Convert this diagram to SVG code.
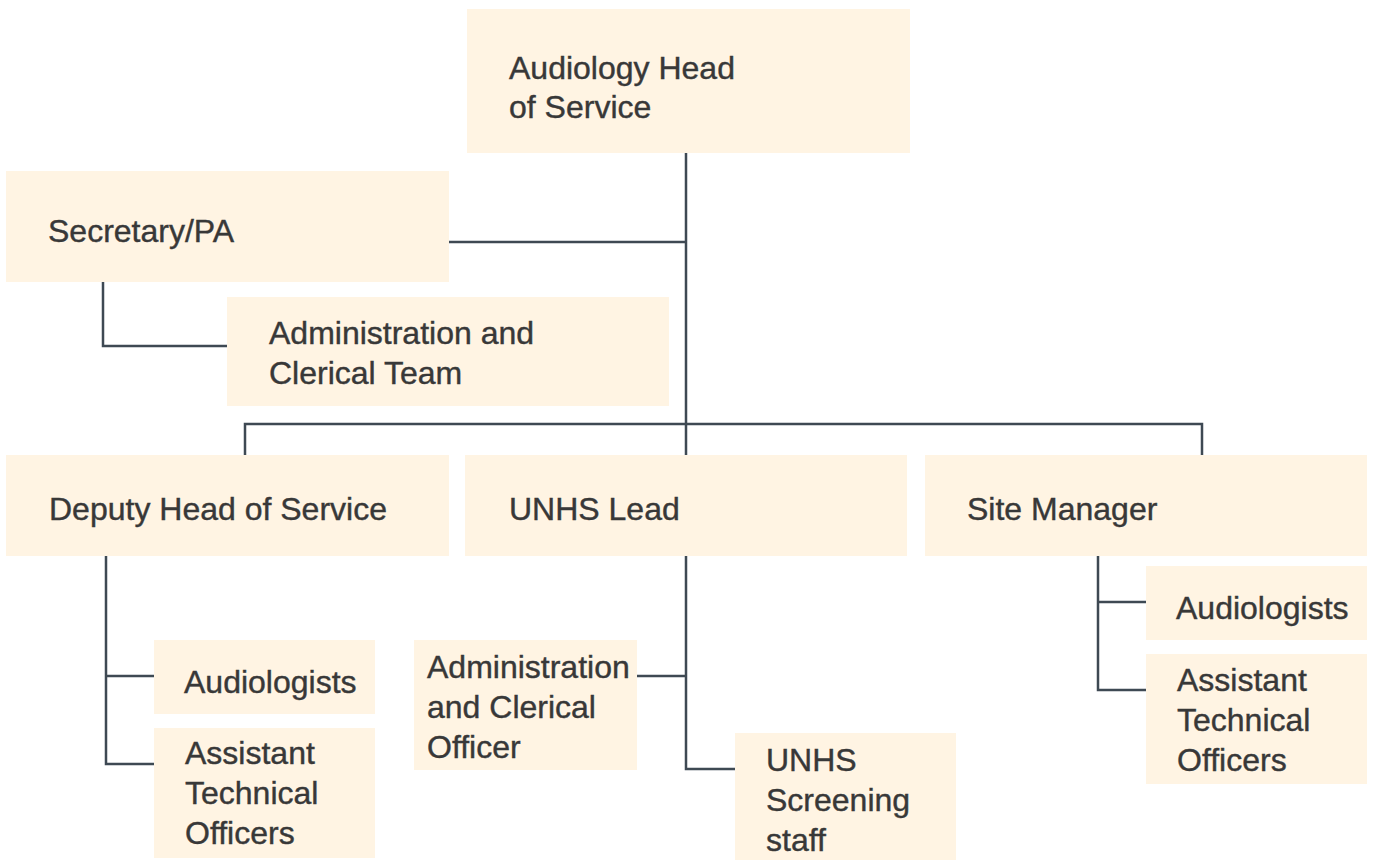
<svg xmlns="http://www.w3.org/2000/svg" width="1373" height="860" viewBox="0 0 1373 860">
<style>
.box{fill:#fff4e3}
.t{font-family:"Liberation Sans",Arial,sans-serif;font-size:32px;fill:#383838;stroke:#383838;stroke-width:0.4}
.c{fill:none;stroke:#3e4953;stroke-width:2.5}
</style>
<rect width="1373" height="860" fill="#ffffff"/>
<g id="connectors" class="c">
<path d="M686 153V455"/>
<path d="M449 242H686"/>
<path d="M103 282V346H227"/>
<path d="M245 455V424H1202V455"/>
<path d="M106 556V764H154M106 676H154"/>
<path d="M686 556V769H735M637 676H686"/>
<path d="M1098 556V690H1146M1098 602H1146"/>
</g>
<g id="head"><rect class="box" x="467" y="9" width="443" height="144"/><text class="t" x="509" y="79">Audiology Head</text><text class="t" x="509" y="118">of Service</text></g>
<g id="secretary"><rect class="box" x="6" y="171" width="443" height="111"/><text class="t" x="48" y="242">Secretary/PA</text></g>
<g id="admin-team"><rect class="box" x="227" y="297" width="442" height="109"/><text class="t" x="269" y="344">Administration and</text><text class="t" x="269" y="384">Clerical Team</text></g>
<g id="deputy"><rect class="box" x="6" y="455" width="443" height="101"/><text class="t" x="49" y="520">Deputy Head of Service</text></g>
<g id="unhs-lead"><rect class="box" x="465" y="455" width="442" height="101"/><text class="t" x="509" y="520">UNHS Lead</text></g>
<g id="site-manager"><rect class="box" x="925" y="455" width="442" height="101"/><text class="t" x="967" y="520">Site Manager</text></g>
<g id="audiologists-left"><rect class="box" x="154" y="640" width="221" height="74"/><text class="t" x="184" y="693">Audiologists</text></g>
<g id="ato-left"><rect class="box" x="154" y="728" width="221" height="130"/><text class="t" x="185" y="764">Assistant</text><text class="t" x="185" y="804">Technical</text><text class="t" x="185" y="844">Officers</text></g>
<g id="admin-officer"><rect class="box" x="414" y="640" width="223" height="130"/><text class="t" x="427" y="678">Administration</text><text class="t" x="427" y="718">and Clerical</text><text class="t" x="427" y="758">Officer</text></g>
<g id="unhs-screening"><rect class="box" x="735" y="733" width="221" height="127"/><text class="t" x="766" y="771">UNHS</text><text class="t" x="766" y="811">Screening</text><text class="t" x="766" y="851">staff</text></g>
<g id="audiologists-right"><rect class="box" x="1146" y="566" width="221" height="74"/><text class="t" x="1176" y="619">Audiologists</text></g>
<g id="ato-right"><rect class="box" x="1146" y="654" width="221" height="130"/><text class="t" x="1177" y="691">Assistant</text><text class="t" x="1177" y="731">Technical</text><text class="t" x="1177" y="771">Officers</text></g>
</svg>
